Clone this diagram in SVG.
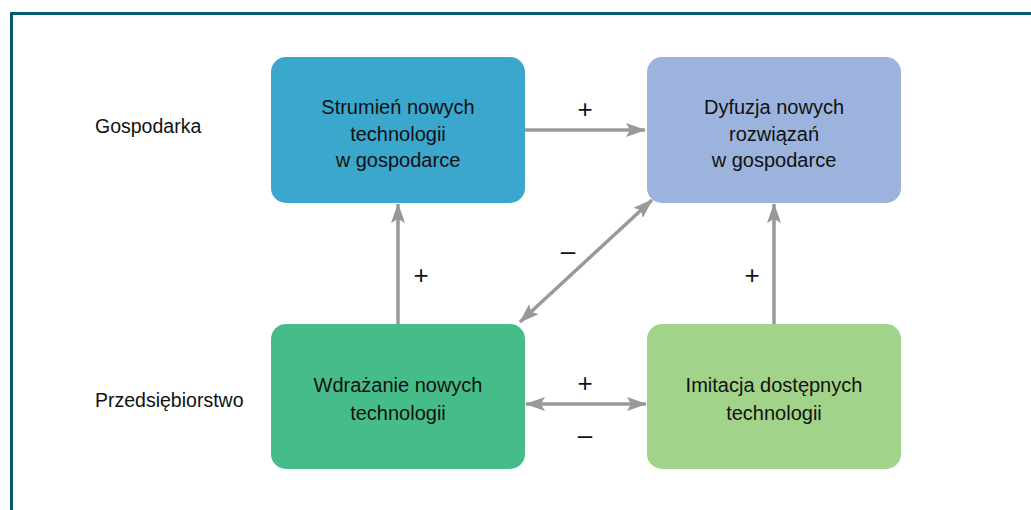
<svg xmlns="http://www.w3.org/2000/svg" width="1031" height="510" viewBox="0 0 1031 510">
  <style>
    .frame { fill: none; stroke: #055A70; stroke-width: 3; }
    .box { rx: 15; ry: 15; }
    .txt { font-family: "Liberation Sans", Arial, sans-serif; font-size: 20px; fill: #111; text-anchor: middle; }
    .lbl { font-family: "Liberation Sans", Arial, sans-serif; font-size: 19.5px; fill: #111; }
    .sign { font-family: "Liberation Sans", Arial, sans-serif; font-size: 26px; fill: #111; text-anchor: middle; }
    .conn { stroke: #999999; stroke-width: 3.5; fill: none; }
  </style>
  <defs>
    <marker id="arrow" viewBox="0 0 20 14" refX="19" refY="7" markerWidth="20" markerHeight="14" markerUnits="userSpaceOnUse" orient="auto-start-reverse">
      <path d="M0,0 L20,7 L0,14 L4,7 Z" fill="#999999"/>
    </marker>
  </defs>

  <rect width="1031" height="510" fill="#ffffff"/>
  <!-- outer frame: top and left edges only -->
  <path class="frame" d="M11.5,510 L11.5,13.5 L1031,13.5"/>

  <!-- row labels -->
  <text class="lbl" x="95" y="133">Gospodarka</text>
  <text class="lbl" x="95" y="407">Przedsiębiorstwo</text>

  <g id="node-strumien">
    <rect class="box" x="271" y="57" width="254" height="146" fill="#3BA7CD"/>
    <text class="txt" x="398" y="114">Strumień nowych</text>
    <text class="txt" x="398" y="140.5">technologii</text>
    <text class="txt" x="398" y="167">w gospodarce</text>
  </g>

  <g id="node-dyfuzja">
    <rect class="box" x="647" y="57" width="254" height="146" fill="#9BB3DD"/>
    <text class="txt" x="774" y="114">Dyfuzja nowych</text>
    <text class="txt" x="774" y="140.5">rozwiązań</text>
    <text class="txt" x="774" y="167">w gospodarce</text>
  </g>

  <g id="node-wdrazanie">
    <rect class="box" x="271" y="324" width="254" height="145" fill="#47BC8B"/>
    <text class="txt" x="398" y="392">Wdrażanie nowych</text>
    <text class="txt" x="398" y="420">technologii</text>
  </g>

  <g id="node-imitacja">
    <rect class="box" x="647" y="324" width="254" height="145" fill="#A2D38A"/>
    <text class="txt" x="774" y="392">Imitacja dostępnych</text>
    <text class="txt" x="774" y="420">technologii</text>
  </g>

  <g id="connectors">
    <line class="conn" x1="525" y1="130" x2="645" y2="130" marker-end="url(#arrow)"/>
    <line class="conn" x1="398" y1="324" x2="398" y2="204" marker-end="url(#arrow)"/>
    <line class="conn" x1="774" y1="324" x2="774" y2="204" marker-end="url(#arrow)"/>
    <line class="conn" x1="520" y1="322" x2="652" y2="200" marker-start="url(#arrow)" marker-end="url(#arrow)"/>
    <line class="conn" x1="526" y1="404" x2="646" y2="404" marker-start="url(#arrow)" marker-end="url(#arrow)"/>

    <text class="sign" x="585" y="118">+</text>
    <text class="sign" x="421" y="284">+</text>
    <text class="sign" x="752" y="284">+</text>
    <text class="sign" x="568" y="260">–</text>
    <text class="sign" x="585" y="392">+</text>
    <text class="sign" x="585" y="444">–</text>
  </g>
</svg>
